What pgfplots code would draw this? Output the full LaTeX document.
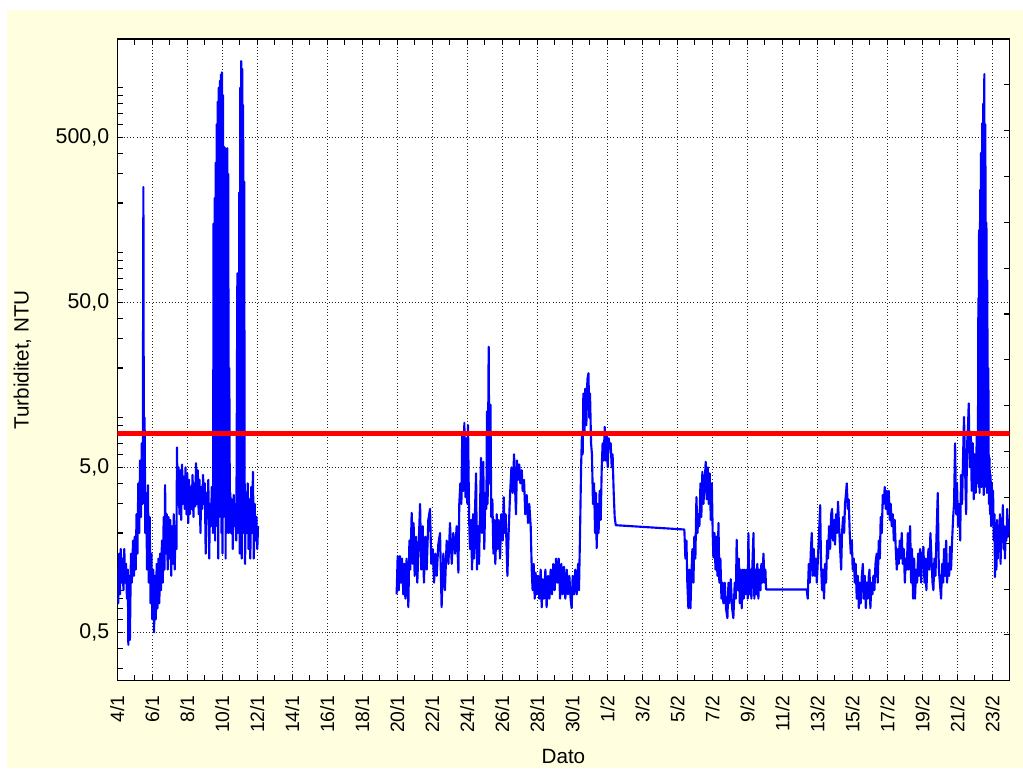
\documentclass[border=0pt]{standalone}
\usepackage{pgfplots}
\pgfplotsset{compat=1.18}
\usepackage{fontspec}
\setmainfont{Liberation Sans}
\definecolor{cream}{RGB}{255,255,224}
\definecolor{bl}{RGB}{0,0,255}
\begin{document}
\begin{tikzpicture}
\path[use as bounding box, fill=white] (0,0) rectangle (767.25pt,576.75pt);
\fill[cream] (5.25pt,0.75pt) rectangle (767.25pt,569.25pt);
% axis carrying the right-hand ticks and the white plot background
\begin{axis}[at={(87.98pt,66.2pt)}, anchor=south west, scale only axis,
  width=669.15pt, height=481.3pt, xmin=0, xmax=50.98, ymin=0, ymax=14,
  xtick=\empty, ytick={1,...,13}, ytick pos=right, yticklabels={},
  tick align=inside, axis background/.style={fill=white},
  axis line style={line width=1pt}, major tick length=4pt,
  tick style={line width=0.8pt, black}]
\end{axis}
\begin{axis}[at={(87.98pt,66.2pt)}, anchor=south west, scale only axis,
  width=669.15pt, height=481.3pt, xmin=0, xmax=50.98,
  ymode=log, ymin=0.2545, ymax=1972,
  xtick={0,2,...,50}, minor xtick={1,3,...,49},
  xticklabels={4/1,6/1,8/1,10/1,12/1,14/1,16/1,18/1,20/1,22/1,24/1,26/1,28/1,30/1,1/2,3/2,5/2,7/2,9/2,11/2,13/2,15/2,17/2,19/2,21/2,23/2},
  xtick pos=both, xticklabel pos=bottom,
  ytick={0.5,5,50,500}, yticklabels={{0,5},{5,0},{50,0},{500,0}},
  minor ytick={0.3,0.4,0.6,0.7,0.8,0.9,1,2,3,4,6,7,8,9,10,20,30,40,60,70,80,90,100,200,300,400,600,700,800,900,1000},
  ytick pos=left, tick align=inside,
  major tick length=4.5pt, minor tick length=4.5pt,
  tick style={line width=0.8pt, black},
  axis line style={line width=1pt},
  xmajorgrids, ymajorgrids,
  major grid style={dotted, black!85, line width=0.6pt},
  xticklabel style={font=\fontsize{14.5}{17}\selectfont, rotate=90, anchor=east},
  xticklabel shift=7.4pt,
  yticklabel style={font=\fontsize{16}{19}\selectfont},
  yticklabel shift=2.6pt,
  xlabel={Dato}, ylabel={Turbiditet, NTU},
  xlabel style={at={(axis description cs:0.5,-0.1175)}, anchor=center, font=\fontsize{15.5}{18}\selectfont},
  ylabel style={at={(axis description cs:-0.1063,0.5)}, anchor=center, font=\fontsize{15.5}{18}\selectfont},
]
\addplot[color=bl, line width=1.6pt, line join=round] coordinates {
(0.00,1.2)(0.05,0.75)(0.10,1.5)(0.15,0.85)(0.20,1.6)(0.25,1.0)(0.30,1.4)(0.35,0.9)(0.40,1.6)(0.45,1.0)(0.50,1.3)(0.55,0.8)(0.60,1.2)(0.63,0.42)(0.68,1.1)(0.72,0.45)(0.78,1.5)(0.83,1.0)(0.90,1.8)(0.95,1.1)(1.00,1.9)(1.05,1.2)(1.10,2.6)(1.15,1.5)(1.20,4.0)(1.25,2.0)(1.30,5.5)(1.35,2.5)(1.40,7.0)(1.45,3.0)(1.49,250)(1.52,4.0)(1.56,10)(1.60,2.0)(1.65,3.5)(1.70,1.2)(1.75,3.9)(1.80,1.0)(1.85,2.5)(1.90,0.75)(1.95,1.5)(2.00,0.6)(2.05,1.2)(2.10,0.5)(2.15,1.1)(2.20,0.6)(2.25,1.3)(2.30,0.7)(2.35,1.4)(2.40,0.75)(2.45,1.5)(2.50,0.9)(2.55,1.8)(2.60,1.0)(2.65,2.5)(2.70,1.2)(2.73,3.9)(2.78,1.5)(2.83,2.6)(2.88,1.2)(2.93,2.5)(2.98,1.4)(3.03,2.4)(3.08,1.1)(3.13,2.2)(3.18,1.3)(3.23,2.6)(3.28,1.2)(3.33,2.2)(3.38,1.6)(3.41,6.6)(3.45,3.0)(3.50,5.0)(3.55,2.6)(3.60,4.8)(3.65,2.4)(3.70,5.2)(3.75,3.0)(3.80,4.4)(3.85,2.8)(3.90,5.0)(3.95,2.6)(4.00,4.6)(4.05,2.3)(4.10,4.2)(4.15,2.6)(4.20,3.8)(4.25,2.8)(4.30,4.5)(4.35,2.5)(4.40,4.0)(4.45,2.9)(4.50,5.3)(4.55,3.0)(4.60,4.8)(4.65,2.6)(4.70,4.2)(4.75,2.0)(4.80,3.8)(4.85,2.8)(4.90,4.5)(4.95,3.0)(5.00,4.0)(5.05,1.5)(5.10,3.5)(5.15,2.5)(5.20,4.2)(5.25,1.4)(5.30,3.0)(5.35,2.2)(5.40,3.8)(5.45,2.8)
(5.47,2.0)(5.50,150)(5.53,2.5)(5.56,214)(5.59,1.8)(5.62,351)(5.65,3.0)(5.68,600)(5.71,2.2)(5.74,822)(5.77,1.4)(5.80,1000)(5.83,2.5)(5.86,1100)(5.89,3.0)(5.92,1200)(5.95,2.0)(5.98,1239)(6.01,1.5)(6.04,900)(6.07,2.5)(6.10,438)(6.13,3.0)(6.16,430)(6.19,1.4)(6.22,420)(6.25,2.0)(6.28,430)(6.31,2.5)(6.34,300)(6.37,2.0)(6.40,20)(6.43,3.0)
(6.46,3.5)(6.50,2.0)(6.55,3.2)(6.60,1.6)(6.65,3.4)(6.70,2.2)(6.75,3.0)(6.80,1.8)(6.86,75)(6.89,2.0)(6.93,4.0)(6.97,232)(7.00,1.5)(7.02,1000)(7.05,2.5)(7.08,1449)(7.11,1.4)(7.14,1300)(7.17,3.0)(7.19,785)(7.22,2.0)(7.25,269)(7.28,3.0)(7.30,1.3)(7.35,3.5)(7.40,2.0)(7.45,4.0)(7.50,1.6)(7.55,3.2)(7.60,1.4)(7.65,3.8)(7.70,2.0)(7.75,4.7)(7.80,1.4)(7.85,3.0)(7.90,1.8)(7.95,2.5)(8.00,1.6)(8.04,2.2)
};
\addplot[color=bl, line width=1.6pt, line join=round] coordinates {
(15.96,0.85)(16.02,1.45)(16.08,0.9)(16.15,1.45)(16.21,1.0)(16.27,1.4)(16.34,0.85)(16.40,1.3)(16.46,0.8)(16.53,1.4)(16.63,0.71)(16.69,1.8)(16.74,1.2)(16.82,2.65)(16.88,1.3)(16.93,2.3)(16.99,1.1)(17.07,1.9)(17.14,1.0)(17.22,1.7)(17.30,3.0)(17.37,1.2)(17.45,2.2)(17.52,1.0)(17.60,1.9)(17.68,1.2)(17.77,2.4)(17.87,2.8)(17.94,1.3)(18.02,1.6)(18.10,1.0)(18.17,1.5)(18.25,1.1)(18.34,1.7)(18.44,2.0)(18.53,0.71)(18.63,1.5)(18.72,0.9)(18.82,1.8)(18.92,1.3)(19.01,2.3)(19.11,1.3)(19.20,2.0)(19.30,1.5)(19.39,2.2)(19.49,1.15)(19.54,3.0)(19.60,4.0)(19.66,3.0)(19.71,8.0)(19.77,3.6)(19.83,9.3)(19.89,3.3)(19.94,7.5)(20.00,3.0)(20.04,9.0)(20.10,2.5)(20.15,1.6)(20.21,2.4)(20.27,1.2)(20.33,2.6)(20.38,1.4)(20.44,2.8)(20.50,4.6)(20.55,1.2)(20.61,2.2)(20.67,1.3)(20.72,2.6)(20.78,5.7)(20.84,2.0)(20.91,5.4)(20.97,1.6)(21.03,3.5)(21.09,2.8)(21.12,10.9)(21.16,3.0)(21.22,26.9)(21.26,4.0)(21.32,12)(21.37,2.5)(21.43,3.2)(21.49,1.5)(21.54,2.4)(21.60,1.3)(21.68,2.6)(21.73,1.6)(21.79,2.4)(21.87,1.4)(21.94,2.6)(22.02,1.8)(22.08,3.3)(22.13,2.0)(22.19,2.6)(22.29,1.1)(22.36,2.0)(22.44,3.4)(22.52,5.0)(22.59,3.5)(22.67,6.0)(22.72,4.0)(22.78,2.6)(22.84,5.5)(22.90,4.2)(22.97,5.2)(23.03,4.0)(23.11,4.8)(23.16,3.6)(23.24,4.2)(23.31,2.6)(23.39,3.4)(23.47,2.3)(23.54,3.0)(23.62,2.2)(23.68,1.2)(23.73,0.9)(23.79,1.3)(23.85,0.8)(23.90,1.15)(23.96,0.85)(24.04,1.1)(24.11,0.8)(24.19,1.2)(24.25,0.71)(24.30,1.05)(24.38,0.8)(24.46,1.2)(24.53,0.71)(24.61,1.1)(24.69,0.8)(24.76,1.2)(24.84,0.85)(24.91,1.3)(24.99,0.9)(25.07,1.4)(25.14,1.0)(25.22,1.4)(25.30,0.8)(25.37,1.3)(25.45,0.85)(25.52,1.25)(25.60,0.8)(25.68,1.2)(25.75,0.85)(25.83,1.1)(25.90,0.8)(25.96,0.7)(26.02,1.1)(26.10,0.85)(26.17,1.2)(26.25,0.85)(26.33,1.3)(26.38,0.9)(26.44,2.0)(26.50,5.0)(26.55,8.0)(26.59,6.0)(26.63,14)(26.69,8.0)(26.74,15)(26.80,9.0)(26.86,17)(26.92,18.6)(26.97,10)(27.01,14)(27.07,7)(27.12,6)(27.18,3.0)(27.24,4.0)(27.30,2.0)(27.35,3.5)(27.39,1.62)(27.45,3.0)(27.50,2.0)(27.56,3.6)(27.62,2.4)(27.68,5.0)(27.73,7.0)(27.79,5.5)(27.85,8.8)(27.91,5.5)(27.96,8.0)(28.02,5.0)(28.08,7.5)(28.13,6.5)(28.19,7.0)(28.25,5.0)(28.30,6.0)(28.36,3.6)(28.42,2.5)(28.48,2.23)
(32.40,2.1)(32.46,1.4)(32.52,1.8)(32.57,1.0)(32.63,0.7)(32.69,1.2)(32.75,0.7)(32.80,1.1)(32.86,1.6)(32.92,1.0)(32.97,1.9)(33.03,1.4)(33.09,3.3)(33.15,2.0)(33.20,2.6)(33.26,2.2)(33.32,4.0)(33.37,2.5)(33.43,4.7)(33.49,3.0)(33.57,4.2)(33.62,5.4)(33.68,3.2)(33.74,5.0)(33.79,3.0)(33.85,4.6)(33.91,2.4)(33.97,4.0)(34.02,2.0)(34.06,1.42)(34.12,2.0)(34.18,1.2)(34.23,1.9)(34.29,1.1)(34.35,2.3)(34.40,1.0)(34.46,1.4)(34.52,0.8)(34.58,1.0)(34.63,0.75)(34.71,1.0)(34.78,0.7)(34.86,0.61)(34.92,1.0)(34.97,0.75)(35.05,1.05)(35.13,0.7)(35.20,0.61)(35.28,1.0)(35.34,0.8)(35.39,1.82)(35.45,0.9)(35.51,1.4)(35.57,0.75)(35.62,1.2)(35.68,0.7)(35.74,1.2)(35.79,0.8)(35.85,1.2)(35.91,0.85)(35.97,1.2)(36.02,0.8)(36.06,2.0)(36.12,0.85)(36.18,1.2)(36.23,0.8)(36.29,1.3)(36.35,2.0)(36.40,0.8)(36.46,1.2)(36.52,0.85)(36.57,1.3)(36.63,0.8)(36.69,1.2)(36.75,0.9)(36.80,1.3)(36.86,1.0)(36.92,1.5)(36.98,1.0)(37.03,1.2)(37.07,0.91)
(39.39,0.91)(39.45,0.8)(39.51,1.3)(39.57,1.0)(39.62,1.5)(39.68,2.0)(39.74,1.1)(39.79,1.6)(39.85,1.1)(39.91,1.4)(39.97,1.0)(40.02,1.3)(40.08,1.8)(40.16,2.95)(40.21,1.3)(40.27,0.9)(40.33,1.2)(40.38,0.8)(40.44,1.3)(40.50,1.0)(40.56,1.8)(40.61,1.4)(40.67,2.2)(40.73,1.6)(40.79,2.6)(40.84,2.8)(40.90,1.8)(40.96,2.4)(41.01,1.7)(41.07,2.6)(41.13,2.0)(41.18,3.1)(41.24,2.2)(41.30,1.6)(41.36,1.2)(41.41,2.0)(41.47,2.5)(41.53,2.0)(41.58,3.0)(41.64,3.5)(41.68,4.0)(41.74,2.8)(41.79,3.2)(41.85,2.0)(41.91,1.5)(41.97,1.8)(42.02,1.2)(42.08,1.4)(42.14,1.0)(42.19,1.3)(42.25,0.8)(42.31,1.1)(42.37,0.7)(42.42,1.0)(42.48,0.75)(42.54,1.1)(42.60,1.3)(42.65,0.8)(42.71,1.1)(42.77,0.7)(42.82,1.0)(42.88,0.8)(42.94,1.1)(42.98,1.2)(43.03,0.7)(43.09,1.0)(43.15,0.85)(43.20,1.1)(43.26,0.9)(43.32,1.3)(43.39,1.5)(43.45,1.0)(43.51,1.8)(43.57,1.4)(43.62,2.5)(43.68,2.0)(43.74,3.4)(43.79,3.0)(43.85,3.8)(43.91,2.8)(43.97,3.6)(44.02,2.6)(44.08,3.6)(44.14,2.4)(44.19,3.0)(44.25,2.2)(44.31,2.6)(44.37,1.8)(44.42,2.4)(44.48,1.6)(44.54,1.2)(44.60,1.6)(44.65,1.3)(44.71,1.8)(44.77,1.4)(44.82,2.0)(44.88,1.3)(44.94,1.6)(45.00,1.0)(45.05,1.4)(45.11,1.2)(45.17,2.0)(45.22,1.2)(45.30,2.2)(45.36,1.0)(45.41,1.6)(45.47,0.8)(45.53,1.4)(45.58,0.8)(45.64,1.2)(45.70,1.0)(45.76,1.5)(45.81,1.1)(45.87,1.6)(45.93,1.0)(45.98,1.4)(46.06,1.65)(46.12,1.0)(46.18,1.4)(46.23,0.9)(46.29,1.3)(46.35,1.6)(46.40,1.2)(46.46,2.0)(46.52,1.4)(46.58,1.0)(46.63,0.9)(46.69,1.4)(46.75,1.1)(46.80,1.8)(46.88,3.5)(46.94,1.2)(47.00,1.0)(47.07,0.8)(47.13,1.3)(47.19,1.0)(47.24,1.6)(47.30,1.1)(47.36,1.8)(47.41,1.0)(47.47,1.3)(47.53,1.1)(47.58,1.65)(47.64,1.2)(47.70,1.8)(47.76,2.5)(47.81,3.0)(47.87,7.0)(47.93,2.6)(47.98,4.0)(48.04,2.2)(48.10,3.0)(48.16,1.8)(48.21,4.5)(48.27,3.0)(48.33,6.0)(48.38,10.1)(48.44,5.0)(48.50,2.6)(48.56,7.0)(48.61,9.0)(48.65,12.2)(48.71,5.0)(48.77,8.0)(48.82,3.6)(48.88,7.0)(48.94,3.2)(48.99,6.0)(49.05,3.5)(49.11,8.0)(49.17,4.0)
(49.20,53)(49.22,3.8)(49.24,137)(49.27,3.5)(49.30,240)(49.33,4.0)(49.35,402)(49.38,3.8)(49.42,608)(49.45,4.5)(49.48,800)(49.51,3.4)(49.54,1210)(49.57,3.8)(49.60,600)(49.63,4.0)(49.66,152)(49.69,3.5)(49.71,68)(49.74,5.0)(49.77,20)
(49.80,3.0)(49.84,5.7)(49.87,2.6)(49.90,4.5)(49.93,2.2)(49.97,4.0)(50.00,2.5)(50.04,3.6)(50.08,1.8)(50.12,2.6)(50.15,1.08)(50.19,2.0)(50.23,1.2)(50.27,2.4)(50.31,1.4)(50.35,2.2)(50.39,1.6)(50.43,2.6)(50.47,1.3)(50.51,2.4)(50.55,1.8)(50.60,2.95)(50.64,1.6)(50.68,2.2)(50.72,1.4)(50.76,2.0)(50.80,1.8)(50.85,2.8)(50.90,1.9)(50.95,2.4)(50.98,2.0)
};
\addplot[draw=red, line width=3.5pt] coordinates {(0,8) (50.98,8)};
\end{axis}
\end{tikzpicture}
\end{document}
